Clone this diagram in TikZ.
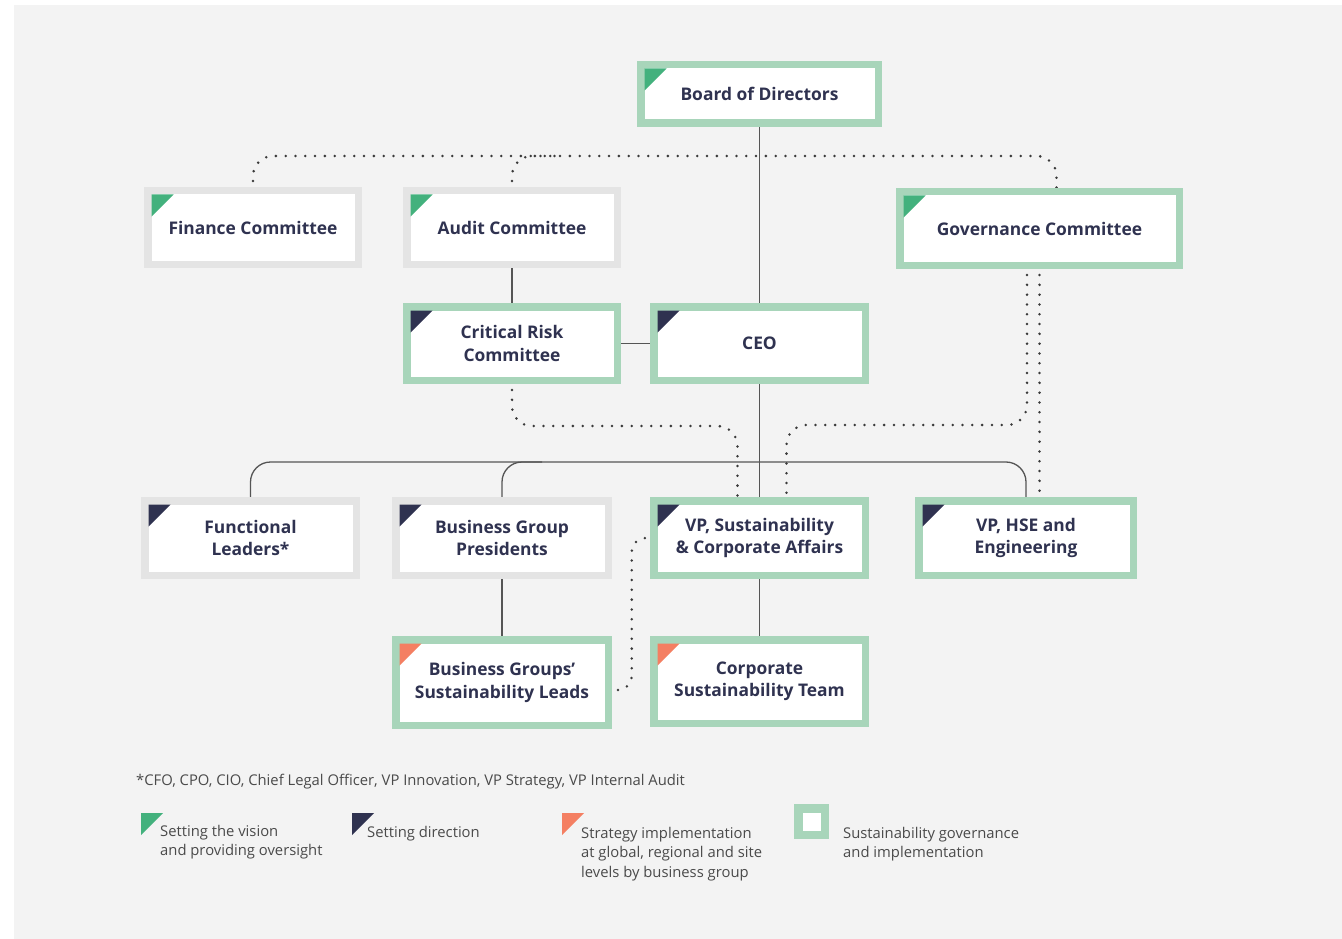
\documentclass[tikz,border=0pt]{standalone}
\usepackage{fontspec}
\setmainfont{Open Sans}
\usetikzlibrary{calc}

\definecolor{pagebg}{HTML}{F3F3F3}
\definecolor{govgreen}{HTML}{A8D5BA}
\definecolor{boxgray}{HTML}{E4E4E4}
\definecolor{vision}{HTML}{43B17D}
\definecolor{direction}{HTML}{2F3250}
\definecolor{impl}{HTML}{F47F62}
\definecolor{ink}{HTML}{2F3250}
\definecolor{linegray}{HTML}{555555}
\definecolor{dotgray}{HTML}{3A3A3A}
\definecolor{notegray}{HTML}{4A4A4A}

\pgfdeclarelayer{bg}
\pgfdeclarelayer{edges}
\pgfsetlayers{bg,edges,main}

\tikzset{
  box/.style={draw=#1, line width=7.5, fill=white, outer sep=0, inner sep=0,
    align=center, text=ink, font=\fontsize{17.4}{22.5}\selectfont\bfseries},
  govbox/.style={box=govgreen},
  plainbox/.style={box=boxgray},
  link/.style={draw=linegray, line width=1.3},
  dotlink/.style={draw=dotgray, line width=2.8, line cap=round,
    dash pattern=on 0pt off 9.8pt},
  note/.style={anchor=base west, inner sep=0, text=notegray,
    font=\fontsize{14.8}{19.5}\selectfont},
}

% box: name, x1, y1, x2, y2 (outer edges), style, corner colour, text
\newcommand\orgbox[8]{%
  \node[#6, minimum width={#4-#2-7.5}, minimum height={#5-#3-7.5}]
    (#1) at ({(#2+#4)/2},{(#3+#5)/2}) {#8};
  \fill[#7] ($(#1.north west)+(3.75,3.75)$) -- ++(22,0) -- ++(-22,22) -- cycle;
}

\begin{document}
\begin{tikzpicture}[x=1pt,y=-1pt]
\useasboundingbox (0,0) rectangle (1342,939);
\begin{pgfonlayer}{bg}
  \fill[white] (0,0) rectangle (1342,939);
  \fill[pagebg] (14,5) rectangle (1342,939);
\end{pgfonlayer}

% organisation boxes
\orgbox{board}{637}{61}{882}{127}{govbox}{vision}{Board of Directors}
\orgbox{fin}{144}{187}{362}{268}{plainbox}{vision}{Finance Committee}
\orgbox{audit}{403}{187}{621}{268}{plainbox}{vision}{Audit Committee}
\orgbox{gov}{896}{188}{1183}{269}{govbox}{vision}{Governance Committee}
\orgbox{crc}{403}{303}{621}{384}{govbox}{direction}{Critical Risk\\Committee}
\orgbox{ceo}{650}{303}{869}{384}{govbox}{direction}{CEO}
\orgbox{fl}{141}{497}{360}{579}{plainbox}{direction}{Functional\\Leaders*}
\orgbox{bgp}{392}{497}{612}{579}{plainbox}{direction}{Business Group\\Presidents}
\orgbox{vps}{650}{497}{869}{579}{govbox}{direction}{VP, Sustainability\\\& Corporate Affairs}
\orgbox{hse}{915}{497}{1137}{579}{govbox}{direction}{VP, HSE and\\Engineering}
\orgbox{bgl}{392}{636}{612}{729}{govbox}{impl}{Business Groups’\\Sustainability Leads}
\orgbox{cst}{650}{636}{869}{727}{govbox}{impl}{Corporate\\Sustainability Team}

\coordinate (toprail) at (0,156);
\coordinate (midrail) at (0,426);
\coordinate (bus) at (0,462);

\begin{pgfonlayer}{edges}
  % reporting lines
  \draw[link] (board) -- (ceo);
  \draw[link] (ceo) -- (vps);
  \draw[link] (audit) -- (crc);
  \draw[link] (crc) -- (ceo);
  \draw[link] (bgp) -- (bgl);
  \draw[link] (vps) -- (cst);
  \draw[link, rounded corners=20] (fl.north) |- (bus -| hse.north) -- (hse.north);
  \draw[link, rounded corners=20] (bgp.north) |- ($(bus -| bgp.north)+(40,0)$);

  % dotted oversight links
  \draw[dotlink, rounded corners=20] (fin.north) |- ($(toprail -| gov.north)+(17,0)$)
    -- ($(gov.north)+(17,0)$);
  \draw[dotlink, rounded corners=20] (audit.north) |- ($(toprail -| audit.north)+(50,0)$);
  \draw[dotlink, rounded corners=20] (crc.south) |- ($(midrail -| vps.north)+(-22,0)$)
    -- ($(vps.north)+(-22,0)$);
  \draw[dotlink, rounded corners=20] ($(gov.south)+(-12.5,0)$) |- ($(midrail -| vps.north)+(27,-1)$)
    -- ($(vps.north)+(27,0)$);
  \draw[dotlink] (gov.south) -- (gov.south |- hse.north);
  \draw[dotlink, rounded corners=14] ($(bgl.east)+(0,7.5)$) -| ($(vps.west)+(-22,0)$) -- (vps.west);
\end{pgfonlayer}

% footnote and legend
\node[note] (foot) at (136,785) {*CFO, CPO, CIO, Chief Legal Officer, VP Innovation, VP Strategy, VP Internal Audit};

\fill[vision] (141,813) -- ++(22,0) -- ++(-22,22) -- cycle;
\node[note] (lg1a) at (160,836) {Setting the vision};
\node[note] (lg1b) at (160,855.5) {and providing oversight};

\fill[direction] (352,813) -- ++(22,0) -- ++(-22,22) -- cycle;
\node[note] (lg2) at (367,837.5) {Setting direction};

\fill[impl] (562,813) -- ++(22,0) -- ++(-22,22) -- cycle;
\node[note] (lg3a) at (581,838) {Strategy implementation};
\node[note] (lg3b) at (581,857.5) {at global, regional and site};
\node[note] (lg3c) at (581,877) {levels by business group};

\filldraw[fill=white, draw=govgreen, line width=8.5] (798.25,808.25) rectangle (824.75,834.75);
\node[note] (lg4a) at (843,838) {Sustainability governance};
\node[note] (lg4b) at (843,857.5) {and implementation};
\end{tikzpicture}
\end{document}
